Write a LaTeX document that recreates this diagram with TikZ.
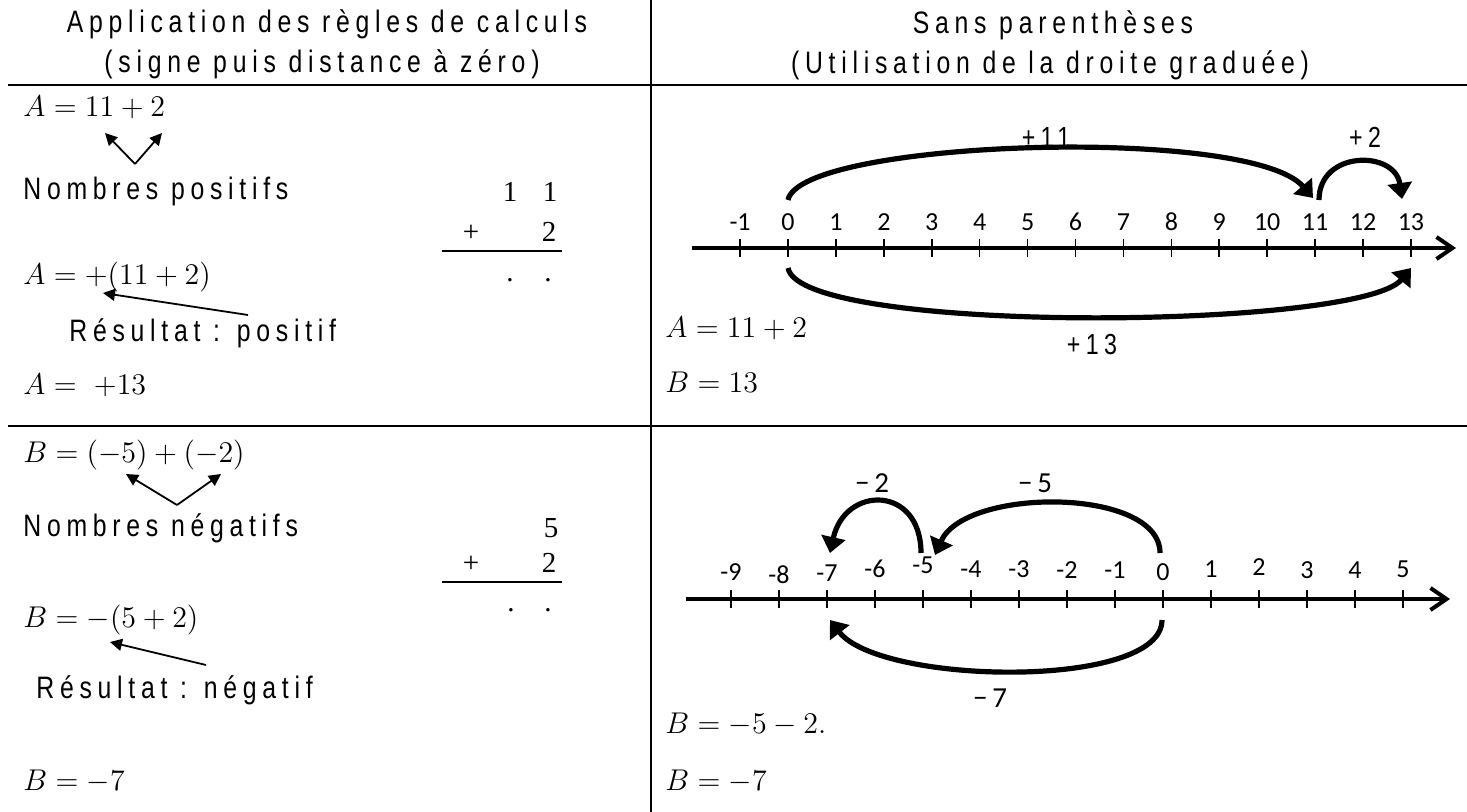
\documentclass[tikz,border=0pt]{standalone}
\usepackage{fix-cm}
\usepackage{amsmath}
\usepackage{fontspec}
\usetikzlibrary{arrows.meta}
\newfontfamily\narrowfont[FakeStretch=0.8,LetterSpace=18.5]{Liberation Sans}
\newfontfamily\calibrifont{Carlito}
\newfontfamily\timesfont{Liberation Serif}

\begin{document}
\begin{tikzpicture}[x=0.5pt,y=-0.5pt,
    titre/.style={font=\narrowfont\fontsize{15.5}{18}\selectfont,anchor=base,inner sep=0pt},
    texte/.style={font=\narrowfont\fontsize{15.5}{18}\selectfont,anchor=base west,inner sep=0pt},
    formule/.style={font=\fontsize{15}{18}\selectfont,anchor=base west,inner sep=0pt},
    chiffre/.style={font=\timesfont\fontsize{14.5}{17}\selectfont,anchor=base,inner sep=0pt},
    grad/.style={font=\calibrifont\fontsize{13}{15}\selectfont,anchor=base,inner sep=0pt},
    saut/.style={font=\narrowfont\fontsize{14.5}{16}\selectfont,anchor=base,inner sep=0pt},
    moins/.style={font=\calibrifont\fontsize{14.5}{16}\selectfont,anchor=base,inner sep=0pt},
    fleche/.style={line width=0.9pt,-{Triangle[length=6pt,width=6pt]}},
    courbe/.style={line width=2.6pt,-{Triangle[length=8pt,width=12pt]}},
    axe/.style={line width=2pt,-{Straight Barb[length=8pt,width=11pt,line width=2pt]}},
    trait/.style={line width=0.8pt},
    cadre/.style={line width=1.4pt}]

    \useasboundingbox (0,0) rectangle (1467,812);

    % tableau
    \coordinate (hg) at (8,85);
    \coordinate (hd) at (1467,85);
    \coordinate (mg) at (8,426);
    \coordinate (md) at (1467,426);
    \coordinate (vh) at (651,0);
    \coordinate (vb) at (651,812);

    \draw[cadre] (hg) -- (hd);
    \draw[cadre] (mg) -- (md);
    \draw[line width=1pt] (vh) -- (vb);

    \node[titre] (t1) at (327,33) {Application des règles de calculs};
    \node[titre] (t2) at (322,73) {(signe puis distance à zéro)};
    \node[titre] (t3) at (1053,34) {Sans parenthèses};
    \node[titre] (t4) at (1050,74) {(Utilisation de la droite graduée)};

    % colonne de gauche, A
    \node[formule] (a1) at (23,117) {$A = 11 + 2$};
    \coordinate (va) at (135,164);
    \coordinate (va1) at (105,133);
    \coordinate (va2) at (162,133);
    \draw[fleche] (va) -- (va1);
    \draw[fleche] (va) -- (va2);
    \node[texte] (np) at (23,200) {Nombres positifs};

    \node[chiffre] (c1) at (510,202) {1};
    \node[chiffre] (c2) at (550,202) {1};
    \node[chiffre] (c3) at (471,242) {+};
    \node[chiffre] (c4) at (549,242) {2};
    \coordinate (ba1) at (442,251);
    \coordinate (ba2) at (562,251);
    \draw[trait] (ba1) -- (ba2);
    \node[chiffre] (d1) at (510,282) {.};
    \node[chiffre] (d2) at (548,282) {.};

    \node[formule] (a2) at (23,285) {$A = +(11 + 2)$};
    \coordinate (ra) at (248,315);
    \coordinate (ra1) at (103,293);
    \draw[fleche] (ra) -- (ra1);
    \node[texte] (rp) at (69,342) {Résultat : positif};
    \node[formule] (a3) at (23,395) {$A = \ +13$};

    % colonne de gauche, B
    \node[formule] (b1) at (23,463) {$B = (-5) + (-2)$};
    \coordinate (vb0) at (177,505);
    \coordinate (vb1) at (126,474);
    \coordinate (vb2) at (221,474);
    \draw[fleche] (vb0) -- (vb1);
    \draw[fleche] (vb0) -- (vb2);
    \node[texte] (nn) at (23,537) {Nombres négatifs};

    \node[chiffre] (c5) at (551,538) {5};
    \node[chiffre] (c6) at (471,572) {+};
    \node[chiffre] (c7) at (549,572) {2};
    \coordinate (bb1) at (442,582);
    \coordinate (bb2) at (562,582);
    \draw[trait] (bb1) -- (bb2);
    \node[chiffre] (d3) at (511,611) {.};
    \node[chiffre] (d4) at (548,611) {.};

    \node[formule] (b2) at (23,627) {$B = -(5 + 2)$};
    \coordinate (rb) at (206,665);
    \coordinate (rb1) at (110,642);
    \draw[fleche] (rb) -- (rb1);
    \node[texte] (rn) at (36,698) {Résultat : négatif};
    \node[formule] (b3) at (23,790) {$B = -7$};

    % droite graduee du haut
    \coordinate (dA) at (692,248);
    \coordinate (fA) at (1456,248);
    \draw[axe] (dA) -- (fA);
    \foreach \n in {-1,...,13} {
       \draw[trait] (788+47.92*\n,239) -- (788+47.92*\n,257);
       \node[grad] (gA\n) at (788+47.92*\n,231) {\n};
    }

    \coordinate (a0h) at (788,200);
    \coordinate (a11h) at (1313,198);
    \coordinate (a11d) at (1319,200);
    \coordinate (a13h) at (1402,199);
    \coordinate (a0b) at (788,268);
    \coordinate (a13b) at (1411,268);
    \draw[courbe] (a0h) .. controls (800,140) and (1250,125) .. (a11h);
    \draw[courbe] (a11d) .. controls (1319,150) and (1395,150) .. (a13h);
    \draw[courbe] (a0b) .. controls (800,335) and (1360,330) .. (a13b);

    \node[saut] (s11) at (1046,148) {+11};
    \node[saut] (s2) at (1365,148) {+2};
    \node[saut] (s13) at (1092,355) {+13};

    \node[formule] (a4) at (665,338) {$A = 11 + 2$};
    \node[formule] (a5) at (665,393) {$B = 13$};

    % droite graduee du bas
    \coordinate (dB) at (686,599);
    \coordinate (fB) at (1450,599);
    \draw[axe] (dB) -- (fB);
    \foreach \n/\b in {-9/580,-8/583,-7/581,-6/577,-5/573,-4/577,-3/577,-2/578,
                       -1/578,0/580,1/577,2/575,3/578,4/578,5/577} {
       \draw[trait] (1163+48*\n,590) -- (1163+48*\n,608);
       \node[grad] (gB\n) at (1163+48*\n,\b) {\n};
    }

    \coordinate (b0h) at (1160,553);
    \coordinate (b5h) at (935,555);
    \coordinate (b5d) at (921,553);
    \coordinate (b7h) at (830,553);
    \coordinate (b0b) at (1162,620);
    \coordinate (b7b) at (830,620);
    \draw[courbe] (b0h) .. controls (1160,487) and (965,487) .. (b5h);
    \draw[courbe] (b5d) .. controls (921,485) and (845,485) .. (b7h);
    \draw[courbe] (b0b) .. controls (1162,690) and (880,685) .. (b7b);

    \node[moins] (m2) at (872,493) {−\,2};
    \node[moins] (m5) at (1035,493) {−\,5};
    \node[moins] (m7) at (990,707) {−\,7};

    \node[formule] (b4) at (665,733) {$B = -5 - 2.$};
    \node[formule] (b5) at (665,790) {$B = -7$};
\end{tikzpicture}
\end{document}
